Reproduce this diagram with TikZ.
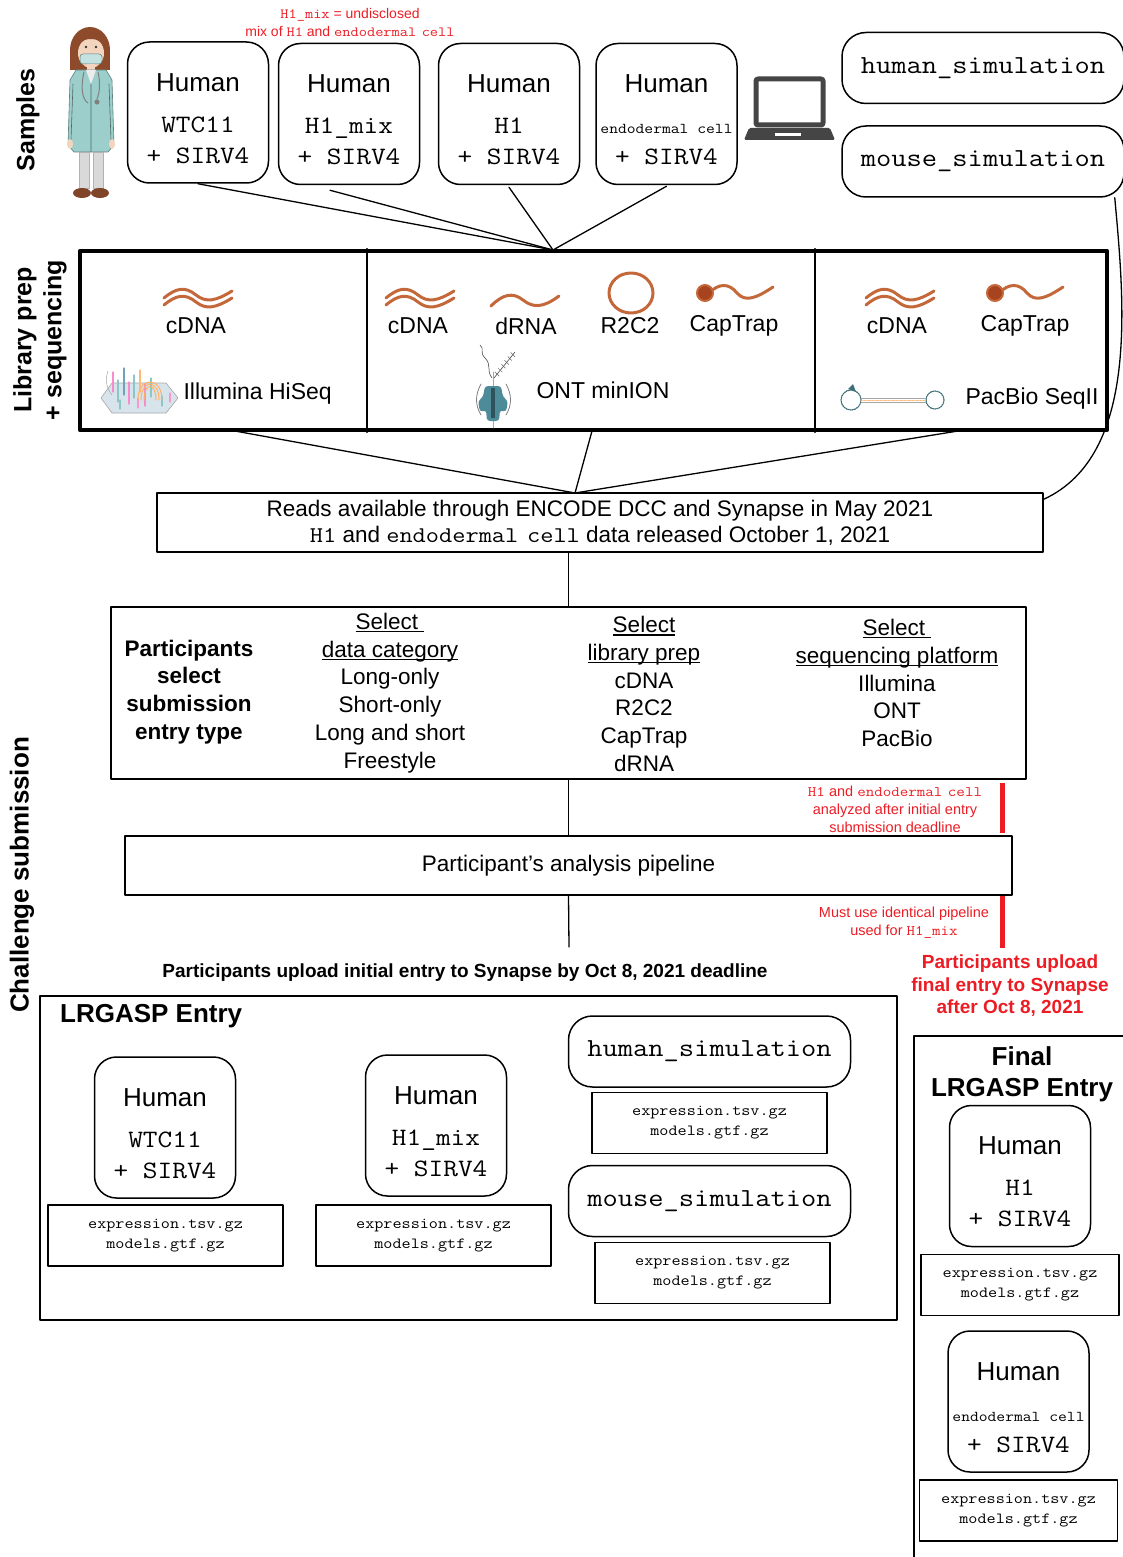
\documentclass[tikz,border=0pt]{standalone}
\usepackage{fontspec}
\setmainfont{Liberation Sans}
\setmonofont{Latin Modern Mono}[FakeStretch=1.14]
\usetikzlibrary{calc}
\definecolor{lrred}{HTML}{EC1C24}
\definecolor{rnaor}{HTML}{C4683A}
\definecolor{capdot}{HTML}{A8431F}
\definecolor{laptop}{HTML}{454545}
\definecolor{coat}{HTML}{9CCFCB}
\definecolor{hair}{HTML}{8E4B2C}
\definecolor{skin}{HTML}{F3D5BF}
\definecolor{ontteal}{HTML}{4E8B99}
\definecolor{pacteal}{HTML}{3E6F78}
\definecolor{flowcell}{HTML}{D8E4EC}

\newcommand{\sidefont}{\fontsize{25}{30}\selectfont\bfseries}
\newcommand{\humfont}{\fontsize{26}{28}\selectfont}
\newcommand{\strfont}{\fontsize{25}{28}\selectfont\ttfamily}
\newcommand{\simfont}{\fontsize{26}{28}\selectfont\ttfamily}
\newcommand{\filefont}{\fontsize{15.5}{20}\selectfont\ttfamily}
\newcommand{\labfont}{\fontsize{23}{26}\selectfont}
\newcommand{\selfont}{\fontsize{22.5}{27.8}\selectfont}
\newcommand{\notefont}{\fontsize{14}{18}\selectfont}
\newcommand{\ul}[1]{\setbox0=\hbox{#1}\rlap{\rule[-3pt]{\wd0}{1.2pt}}\box0}
\newcommand{\celltype}{\texttt{endodermal\ \hspace{-.2em}cell}}

\tikzset{
  sample/.style={draw, line width=1.5pt, rounded corners=22pt, minimum width=141pt, minimum height=141pt, inner sep=0pt},
  simul/.style={draw, line width=1.5pt, rounded corners=24pt, minimum width=282pt, minimum height=71pt, font=\simfont},
  files/.style={draw, line width=1.5pt, minimum width=235pt, minimum height=61pt, align=center, font=\filefont},
  stage/.style={draw, line width=1.5pt, inner sep=0pt},
  side/.style={rotate=90, font=\sidefont, align=center},
  note/.style={text=lrred, font=\notefont, align=center},
  conn/.style={line width=1.3pt},
  rna/.style={rnaor, line width=3pt, line cap=round},
  cdna/.pic={
    \draw[rna] (-34,1) .. controls (-22,-9) and (-13,-11) .. (-2,-2) .. controls (8,6) and (18,4) .. (34,-6);
    \draw[rna] (-34,8) .. controls (-22,-2) and (-13,-4) .. (-2,5) .. controls (8,13) and (18,11) .. (34,1);},
  drna/.pic={
    \draw[rna] (-34,6) .. controls (-22,-6) and (-12,-8) .. (-2,0) .. controls (8,8) and (18,8) .. (34,-4);},
  captrap/.pic={
    \draw[rna] (-26,0) .. controls (-16,-10) and (-6,-10) .. (2,0) .. controls (10,9) and (20,6) .. (38,-6);
    \filldraw[fill=capdot, draw=rnaor, line width=2pt] (-30,0) circle (8);},
}

\newcommand{\sample}[3]{% box with species, strain and spike-in
  \node[sample] (#1) at (#2) {};
  \node[anchor=base, font=\humfont] (#1-h) at ([yshift=-50pt]#1.north) {Human};
  \node[anchor=base, font=\strfont] (#1-s) at ([yshift=-91pt]#1.north) {#3};
  \node[anchor=base, font=\strfont] (#1-p) at ([yshift=-122pt]#1.north) {+ SIRV4};
}
\newcommand{\files}[3]{\node[files, minimum width=#3] (#1) at (#2) {expression.tsv.gz\\models.gtf.gz};}

\begin{document}
\begin{tikzpicture}[x=1pt, y=-1pt, line join=round, line cap=round]
\useasboundingbox (0,0) rectangle (1122,1557);

% row labels
\node[side] (samples) at (28,120) {Samples};
\node[side] (libseq) at (40,340) {Library prep\\+ sequencing};
\node[side, font=\fontsize{26}{30}\selectfont\bfseries] (challenge) at (22,875) {Challenge submission};

% doctor
\fill[hair] (90,50) ellipse (20 and 23);
\fill[hair] (70,48) rectangle (110,70);
\fill[skin] (91,53) ellipse (13 and 15);
\fill[hair] (77,44) .. controls (83,31) and (101,31) .. (106,46) .. controls (98,37) and (86,37) .. cycle;
\fill[black!80] (86,47) circle (1.3);
\fill[black!80] (96,47) circle (1.3);
\fill[coat!60!white, draw=coat!60!black, line width=0.5pt, rounded corners=3pt] (80,54) rectangle (102,64);
\fill[skin] (87,64) rectangle (95,72);
\fill[coat, draw=coat!60!black, line width=0.6pt] (76,70) -- (106,70) -- (112,80) -- (114,145) -- (108,152) -- (74,152) -- (68,145) -- (70,80) -- cycle;
\fill[white!85!gray] (86,70) -- (96,70) -- (91,84) -- cycle;
\draw[coat!50!black, line width=0.6pt] (73,84) -- (71,140) (109,84) -- (111,140) (91,84) -- (91,152);
\fill[skin] (70,144) ellipse (3 and 5);
\fill[skin] (112,144) ellipse (3 and 5);
\draw[gray, line width=1pt] (84,72) .. controls (80,90) and (83,100) .. (88,103);
\draw[gray, line width=1pt] (98,72) .. controls (101,85) and (99,94) .. (97,99);
\fill[gray] (97,102) circle (2.6);
\fill[gray!30, draw=gray!60, line width=0.4pt] (79,152) rectangle (89,188);
\fill[gray!30, draw=gray!60, line width=0.4pt] (93,152) rectangle (103,188);
\fill[hair!90!black] (82,193) ellipse (9 and 5);
\fill[hair!90!black] (100,193) ellipse (9 and 5);

% samples
\node[note] (mixnote) at (350,22) {\texttt{H1\_mix} = undisclosed\\mix of \texttt{H1} and \celltype};
\sample{wtc}{198,112.5}{WTC11}
\sample{mix}{349,114}{H1\_mix}
\sample{hone}{509,114}{H1}
\sample{endo}{666.5,114}{\fontsize{15}{15}\selectfont endodermal cell}

% laptop
\draw[laptop, line width=5pt, rounded corners=2pt] (756,79) rectangle (823,125);
\fill[laptop, rounded corners=1.5pt] (749,128) -- (830,128) -- (835,140) -- (744,140) -- cycle;
\fill[white] (775,133) rectangle (801,136.5);

\node[simul] (hsim) at (983,68) {human\_simulation};
\node[simul] (msim) at (983,161.5) {mouse\_simulation};

% library prep + sequencing
\coordinate (libtop) at (553,250);
\draw[conn] (wtc.south) -- (libtop);
\draw[conn] ([xshift=-19pt, yshift=-5pt]mix.south) -- (libtop);
\draw[conn] ([yshift=-2pt]hone.south) -- (libtop);
\draw[conn] ([yshift=-1pt]endo.south) -- (libtop);

\node[stage, line width=4.5pt, minimum width=1027pt, minimum height=179pt] (lib) at (593.5,340.5) {};
\coordinate (d1) at (367,0);
\coordinate (d2) at (815,0);
\draw[line width=1.5pt] (d1 |- lib.north) -- (d1 |- lib.south);
\draw[line width=1.5pt] (d2 |- lib.north) -- (d2 |- lib.south);

\pic at (198,297) {cdna};
\pic at (420,297) {cdna};
\pic at (525,300) {drna};
\draw[rnaor, line width=3pt] (631,293) ellipse (22 and 20);
\pic at (735,293) {captrap};
\pic at (900,297) {cdna};
\pic at (1025,293) {captrap};

\node[font=\labfont] (c1) at (196,326) {cDNA};
\node[font=\labfont] (c2) at (418,326) {cDNA};
\node[font=\labfont] (d2l) at (526,326) {dRNA};
\node[font=\labfont] (r2) at (630,326) {R2C2};
\node[font=\labfont] (t2) at (734,326) {CapTrap};
\node[font=\labfont] (c3) at (897,326) {cDNA};
\node[font=\labfont] (t3) at (1025,326) {CapTrap};

% illumina flow cell
\filldraw[fill=flowcell, draw=gray!70, line width=0.6pt] (101,398) -- (112,383) -- (166,383) -- (178,398) -- (166,413) -- (112,413) -- cycle;
\foreach \x/\t/\b/\c in {113/372/392/magenta!45, 118/380/402/teal!45, 124/368/395/cyan!40!gray, 129/382/404/magenta!45,
  134/375/398/teal!45, 140/370/392/orange!55, 145/384/406/magenta!45, 151/378/397/teal!45, 120/400/409/teal!45,
  138/398/408/magenta!40, 162/396/406/teal!45, 170/393/402/magenta!40}
  \draw[\c, line width=1.2pt] (\x,\t) -- (\x,\b);
\foreach \r in {6,9,12}
  \draw[orange!60, line width=1pt] (150-\r,400) .. controls (150-\r,388-\r) and (150+\r,388-\r) .. (150+\r,400);
\draw[gray!70, line width=0.5pt] (108,371) .. controls (104,382) and (108,390) .. (112,395);
\node[font=\labfont, anchor=west] (illu) at (180,394) {Illumina HiSeq};

% nanopore
\draw[gray!70, line width=0.6pt] (493,372) -- (493,428);
\fill[ontteal, rounded corners=3pt] (485,386) -- (501,386) -- (503,397) -- (508,401) -- (506,412) -- (500,410) -- (499,421) -- (487,421) -- (486,410) -- (480,412) -- (478,401) -- (483,397) -- cycle;
\fill[ontteal!60!black] (491,388) rectangle (495,418);
\draw[black!70, line width=0.6pt] (492,378) .. controls (486,370) and (492,365) .. (485,358) .. controls (479,352) and (485,349) .. (480,345);
\draw[black!70, line width=0.6pt] (494,378) -- (515,352);
\foreach \s in {0.15,0.3,...,0.95}
  \draw[black!60, line width=0.5pt] ($(494,378)!\s!(515,352)+(-2,-2)$) -- ++(4,4);
\draw[gray, line width=0.8pt] (481,384) .. controls (475,395) and (475,405) .. (481,415);
\draw[gray, line width=0.8pt] (506,384) .. controls (512,395) and (512,405) .. (506,415);
\node[font=\labfont] (ont) at (603,390) {ONT minION};

% pacbio
\draw[pacteal, densely dotted, line width=1.2pt] (851,400) circle (10);
\draw[pacteal, densely dotted, line width=1.2pt] (935,400) circle (9);
\draw[gray!70, line width=0.6pt] (861,398) -- (926,398) (861,402) -- (926,402);
\draw[orange!60, densely dotted, line width=0.6pt] (861,400) -- (926,400);
\fill[pacteal] (848,389) -- (853,384) -- (856,392) -- cycle;
\node[font=\labfont, anchor=west] (pac) at (962,399) {PacBio SeqII};

% data release
\node[stage, minimum width=886pt, minimum height=59pt, align=center, font=\fontsize{22.5}{26}\selectfont] (reads) at (600,522.5)
  {Reads available through ENCODE DCC and Synapse in May 2021\\\texttt{H1} and \celltype{} data released October 1, 2021};
\coordinate (readtop) at (575,493);
\coordinate (l1) at (235,431);
\coordinate (l2) at (592,431);
\coordinate (l3) at (958,431);
\draw[conn] (l1) -- (readtop);
\draw[conn] (l2) -- (readtop);
\draw[conn] (l3) -- (readtop);
\draw[conn] ([xshift=-10pt]msim.south east) .. controls (1124,300) and (1140,455) .. ([yshift=-7pt]reads.north east);

% entry type selection
\node[stage, minimum width=915pt, minimum height=172pt] (sel) at (568.5,693) {};
\node[font=\selfont\bfseries, align=center] (who) at (189,692) {Participants\\select\\submission\\entry type};
\node[font=\selfont, align=center] (cat) at (390,693) {\ul{Select\ }\\\ul{data category}\\Long-only\\Short-only\\Long and short\\Freestyle};
\node[font=\selfont, align=center] (prep) at (644,694) {\ul{Select}\\\ul{library prep}\\cDNA\\R2C2\\CapTrap\\dRNA};
\node[font=\selfont, align=center] (plat) at (897,683) {\ul{Select\ }\\\ul{sequencing platform}\\Illumina\\ONT\\PacBio};
\draw[conn] (sel.north |- reads.south) -- (sel.north);

\node[stage, minimum width=887pt, minimum height=59pt, font=\selfont] (pipe) at (568.5,865.5) {Participant’s analysis pipeline};
\draw[conn] (sel.south) -- (pipe.north);
\coordinate (upload) at (569,947);
\draw[conn] (pipe.south) -- (upload);

% deadlines
\draw[lrred, line width=5pt, line cap=butt] (1002,783) -- (1002,833);
\draw[lrred, line width=5pt, line cap=butt] (1002,896) -- (1002,948);
\node[note, font=\fontsize{14.5}{18}\selectfont] (late) at (895,809) {\texttt{H1} and \celltype\\analyzed after initial entry\\submission deadline};
\node[note, font=\fontsize{14.5}{18}\selectfont] (same) at (904,923) {Must use identical pipeline\\used for \texttt{H1\_mix}};
\node[note, font=\fontsize{19}{22.5}\selectfont\bfseries] (finalnote) at (1010,986) {Participants upload\\final entry to Synapse\\after Oct 8, 2021};
\node[font=\fontsize{19}{22}\selectfont\bfseries] (initial) at (465,973) {Participants upload initial entry to Synapse by Oct 8, 2021 deadline};

% initial entry
\node[stage, minimum width=857pt, minimum height=324pt] (entry) at (468.5,1158) {};
\node[anchor=north west, font=\fontsize{26}{30}\selectfont\bfseries, inner sep=0pt] (entrytitle) at (60,1004) {LRGASP Entry};
\sample{wtcE}{165,1127.5}{WTC11}
\files{fw}{165.5,1235.5}{235pt}
\sample{mixE}{436,1125.5}{H1\_mix}
\files{fm}{433.5,1235.5}{235pt}
\node[simul] (hsimE) at (709.5,1051.5) {human\_simulation};
\files{fh}{709.5,1123}{235pt}
\node[simul] (msimE) at (709.5,1201) {mouse\_simulation};
\files{fmo}{712.5,1273}{235pt}

% final entry
\node[stage, minimum width=222pt, minimum height=560pt, anchor=north west] (final) at (913,1035) {};
\node[font=\fontsize{26}{31}\selectfont\bfseries, align=center] (finaltitle) at (1022,1074) {Final\\LRGASP Entry};
\sample{honeF}{1020,1176}{H1}
\files{fh1}{1020,1285}{198pt}
\sample{endoF}{1018.5,1401.5}{\fontsize{15}{15}\selectfont endodermal cell}
\files{fen}{1018.5,1510.5}{198pt}
\end{tikzpicture}
\end{document}
